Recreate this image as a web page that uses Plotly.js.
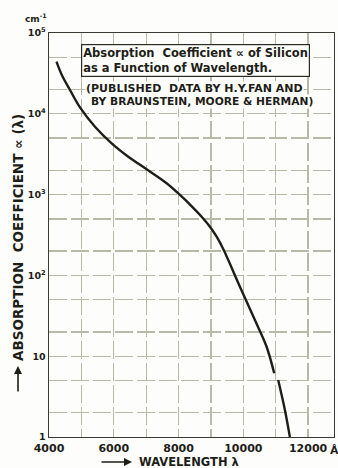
<!DOCTYPE html>
<html>
<head>
<meta charset="utf-8">
<script src="https://cdn.plot.ly/plotly-3.0.1.min.js"></script>
<style>html,body{margin:0;padding:0;background:#fdfdfb;}#chart{width:338px;height:468px;}</style>
</head>
<body>
<div id="chart"></div>
<script>
// Wavelength in Angstrom, absorption coefficient in cm^-1 (null = small break in the drawn curve)
var wavelength = [4230, 4400, 4648, 4957, 5420, 5935, 6448, 7015, 7632, 8043, 8400, 8713, 8969, 9176, 9380, 9895, 10358, 10719, 10954, 11010, 11077, 11284, 11438];
var absorption = [44200, 30000, 19700, 12000, 6920, 4310, 2944, 2055, 1380, 989, 722, 533, 401, 301, 212, 72.5, 28, 13.1, 6.14, null, 5.07, 2.16, 1.0];

var xTickVals = [4000, 5000, 6000, 7000, 8000, 9000, 10000, 11000, 12000];
var xTickText = ['4000', '', '6000', '', '8000', '', '10000', '', '12000'];
var yTickVals = [1, 2, 5, 10, 20, 50, 100, 200, 500, 1000, 2000, 5000, 10000, 20000, 50000, 100000];
var yTickText = ['1', '', '', '10', '', '', '10<sup>2</sup>', '', '', '10<sup>3</sup>', '', '', '10<sup>4</sup>', '', '', '10<sup>5</sup>'];

var F = 'DejaVu Sans, Liberation Sans, sans-serif';
var ink = '#1e1e18';
var gridCol = '#b9b9a8';

var trace = {
  x: wavelength, y: absorption, type: 'scatter', mode: 'lines',
  line: {color: ink, width: 2.4, shape: 'spline', smoothing: 1},
  connectgaps: false, hoverinfo: 'skip'
};

function px(x){ return (x - 49) / 285; }
function py(y){ return (437 - y) / 404; }

var layout = {
  width: 338, height: 468,
  margin: {l: 49, r: 4, t: 33, b: 31, pad: 0},
  paper_bgcolor: '#fdfdfb', plot_bgcolor: '#fdfdfb',
  showlegend: false,
  xaxis: {
    type: 'linear', range: [4000, 12800],
    tickvals: xTickVals, ticktext: xTickText,
    tickfont: {family: F, size: 11, color: ink, weight: 'bold'},
    showgrid: true, gridcolor: gridCol, gridwidth: 1.3, griddash: '18px,4px',
    showline: true, linecolor: '#3a3a32', linewidth: 1.4, mirror: true,
    ticks: '', zeroline: false, fixedrange: true
  },
  yaxis: {
    type: 'log', range: [0, 5],
    tickvals: yTickVals, ticktext: yTickText,
    tickfont: {family: F, size: 9.5, color: ink, weight: 'bold'},
    showgrid: true, gridcolor: gridCol, gridwidth: 1.3, griddash: '18px,4px',
    showline: true, linecolor: '#3a3a32', linewidth: 1.4, mirror: true,
    ticks: '', zeroline: false, fixedrange: true
  },
  annotations: [
    {xref: 'paper', yref: 'paper', x: px(81), y: py(44), xanchor: 'left', yanchor: 'top',
     text: 'Absorption  Coefficient ∝ of Silicon<br>as a Function of Wavelength.',
     align: 'left', showarrow: false,
     font: {family: F, size: 11.5, color: ink, weight: 'bold'},
     bgcolor: '#fdfdfb', bordercolor: '#2a2a22', borderwidth: 1.2, borderpad: 1},
    {xref: 'paper', yref: 'paper', x: px(85), y: py(88), xanchor: 'left', yanchor: 'middle',
     text: '(PUBLISHED  DATA BY H.Y.FAN AND', showarrow: false,
     font: {family: F, size: 11, color: ink, weight: 'bold'}, bgcolor: '#fdfdfb', borderpad: 0},
    {xref: 'paper', yref: 'paper', x: px(90), y: py(101), xanchor: 'left', yanchor: 'middle',
     text: 'BY BRAUNSTEIN, MOORE &amp; HERMAN)', showarrow: false,
     font: {family: F, size: 10.7, color: ink, weight: 'bold'}, bgcolor: '#fdfdfb', borderpad: 0},
    {xref: 'paper', yref: 'paper', x: px(18), y: py(238), xanchor: 'center', yanchor: 'middle',
     text: 'ABSORPTION  COEFFICIENT ∝ (λ)', textangle: -90, showarrow: false,
     font: {family: F, size: 13.5, color: ink, weight: 'bold'}},
    {xref: 'paper', yref: 'paper', x: px(18), y: py(366), ax: 0, ay: 27, text: '',
     showarrow: true, arrowhead: 2, arrowsize: 1, arrowwidth: 1.6, arrowcolor: ink},
    {xref: 'paper', yref: 'paper', x: px(189), y: py(461.5), xanchor: 'center', yanchor: 'middle',
     text: 'WAVELENGTH λ', showarrow: false,
     font: {family: F, size: 11.5, color: ink, weight: 'bold'}},
    {xref: 'paper', yref: 'paper', x: px(132), y: py(462), ax: -32, ay: 0, text: '',
     showarrow: true, arrowhead: 2, arrowsize: 1, arrowwidth: 1.6, arrowcolor: ink},
    {xref: 'paper', yref: 'paper', x: px(328), y: py(450), xanchor: 'left', yanchor: 'middle',
     text: 'Å', showarrow: false,
     font: {family: F, size: 11, color: ink, weight: 'bold'}},
    {xref: 'paper', yref: 'paper', x: px(36), y: py(18), xanchor: 'center', yanchor: 'middle',
     text: 'cm<sup>-1</sup>', showarrow: false,
     font: {family: F, size: 9, color: ink, weight: 'bold'}}
  ]
};

Plotly.newPlot('chart', [trace], layout, {displayModeBar: false, staticPlot: true});
</script>
</body>
</html>
